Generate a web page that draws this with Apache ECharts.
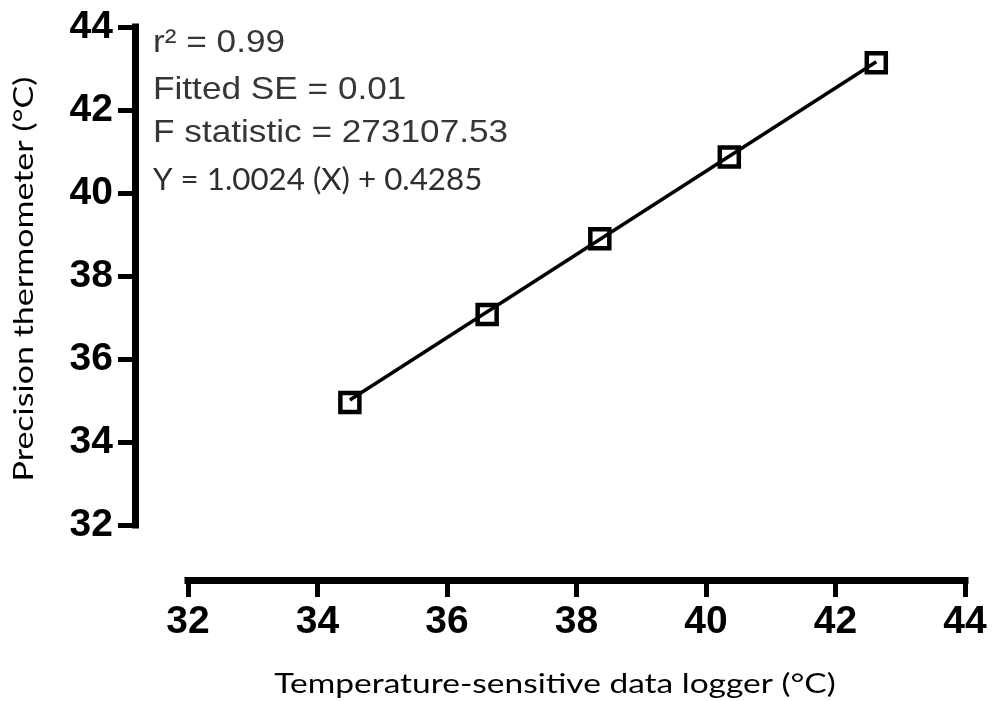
<!DOCTYPE html>
<html>
<head>
<meta charset="utf-8">
<title>Logger vs precision thermometer</title>
<script src="https://cdn.jsdelivr.net/npm/echarts@6/dist/echarts.min.js"></script>
<style>
  html, body { margin: 0; padding: 0; background: #fff; }
  #chart { width: 992px; height: 701px; }
</style>
</head>
<body>
<div id="chart"></div>
<script>
// Paired readings (°C): data logger on x, precision thermometer on y
const loggerTemps = [34.50, 36.62, 38.36, 40.36, 42.63];
const thermometerTemps = [34.95, 37.07, 38.90, 40.87, 43.14];

// Linear fit reported on the plot
const fitSlope = 1.0024;
const fitIntercept = 0.4285;
const fitStats = ['r\u00B2 = 0.99', 'Fitted SE = 0.01', 'F statistic = 273107.53'];
const fitEquation = 'Y = 1.0024 (X) + 0.4285';

// Axis ranges and ticks
const axisMin = 32;
const axisMax = 44;
const axisStep = 2;

const xTitle = 'Temperature-sensitive data logger (\u00B0C)';
const yTitle = 'Precision thermometer (\u00B0C)';

const points = loggerTemps.map((x, i) => [x, thermometerTemps[i]]);
const xLo = Math.min(...loggerTemps);
const xHi = Math.max(...loggerTemps);
const fitLine = [xLo, xHi].map(x => [x, fitSlope * x + fitIntercept]);

const tickFont = { fontFamily: '"Liberation Sans", Arial, sans-serif', fontWeight: 'bold', fontSize: 39, color: '#000' };
const axisLineStyle = { color: '#000', width: 7, cap: 'square' };
const tickStyle = { color: '#000', width: 5 };
const titleFont = '27px Lato, "Open Sans", sans-serif';

const chart = echarts.init(document.getElementById('chart'), null, { renderer: 'canvas' });

const statTexts = fitStats.map((t, i) => ({
  type: 'text',
  x: 153,
  y: [43.5, 90, 133.5][i],
  scaleX: 1.1,
  style: {
    text: t,
    font: '32px "Liberation Sans", Arial, sans-serif',
    fill: '#363636',
    textAlign: 'left',
    textVerticalAlign: 'middle'
  }
}));

chart.setOption({
  animation: false,
  backgroundColor: '#fff',
  grid: { left: 188, right: 27, top: 27, bottom: 176, containLabel: false },
  xAxis: {
    type: 'value',
    min: axisMin, max: axisMax, interval: axisStep,
    offset: 55,
    splitLine: { show: false },
    axisLine: { show: true, onZero: false, lineStyle: axisLineStyle },
    axisTick: { show: true, inside: false, length: 17, lineStyle: tickStyle },
    axisLabel: Object.assign({ margin: 23 }, tickFont)
  },
  yAxis: {
    type: 'value',
    min: axisMin, max: axisMax, interval: axisStep,
    offset: 53,
    splitLine: { show: false },
    axisLine: { show: true, onZero: false, lineStyle: axisLineStyle },
    axisTick: { show: true, inside: false, length: 17, lineStyle: tickStyle },
    axisLabel: Object.assign({ margin: 22 }, tickFont)
  },
  series: [
    {
      type: 'line',
      data: fitLine,
      showSymbol: false,
      lineStyle: { color: '#000', width: 3.5 },
      z: 2
    },
    {
      type: 'scatter',
      data: points,
      symbol: 'rect',
      symbolSize: 19,
      itemStyle: { color: 'rgba(255,255,255,0)', borderColor: '#000', borderWidth: 4.5, opacity: 1 },
      z: 3
    }
  ],
  graphic: [
    ...statTexts,
    {
      type: 'text',
      x: 153,
      y: 179.5,
      scaleX: 1.01,
      style: {
        text: fitEquation,
        font: '31px Lato, "Open Sans", sans-serif',
        fill: '#2e2e2e',
        textAlign: 'left',
        textVerticalAlign: 'middle'
      }
    },
    {
      type: 'text',
      x: 555,
      y: 684,
      scaleX: 1.24,
      style: {
        text: xTitle,
        font: titleFont,
        fill: '#000',
        textAlign: 'center',
        textVerticalAlign: 'middle'
      }
    },
    {
      type: 'text',
      x: 24,
      y: 279,
      rotation: Math.PI / 2,
      scaleX: 1.26,
      style: {
        text: yTitle,
        font: titleFont,
        fill: '#000',
        textAlign: 'center',
        textVerticalAlign: 'middle'
      }
    }
  ]
});
</script>
</body>
</html>
